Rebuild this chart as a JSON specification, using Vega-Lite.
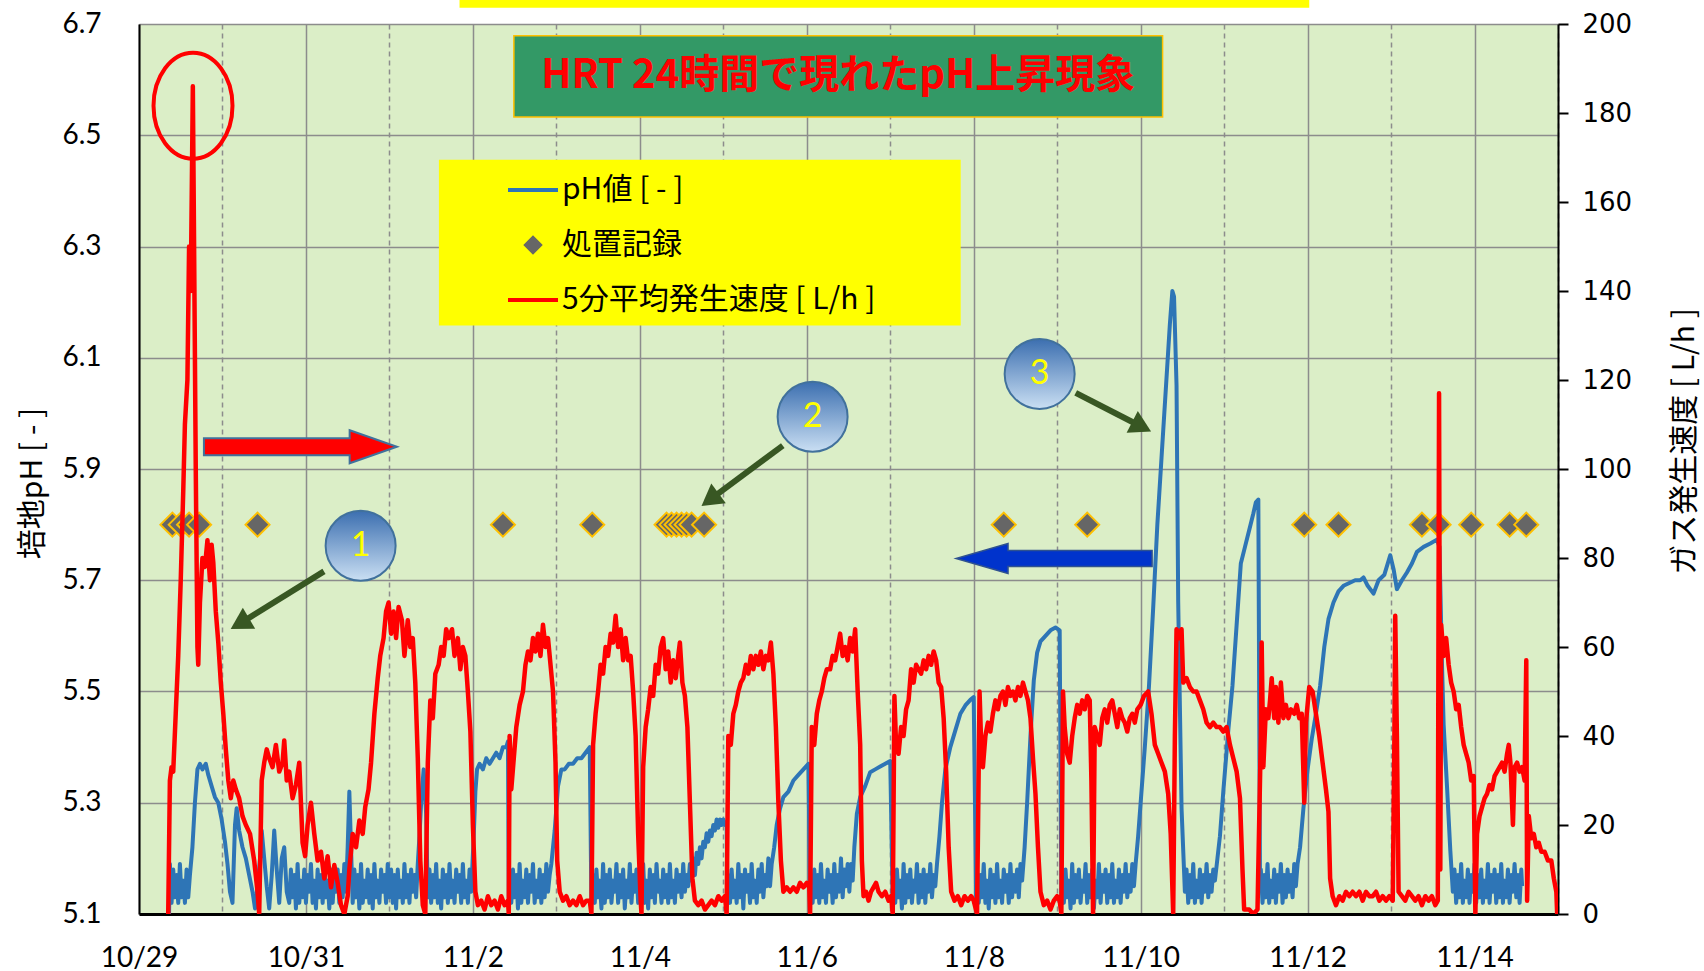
{
"$schema": "https://vega.github.io/schema/vega-lite/v6.json",
"width": 1419, "height": 890,
"autosize": {"type": "none"},
"padding": {"left": 139, "top": 24, "right": 146, "bottom": 57},
"background": "#FFFFFF",
"config": {"view": {"fill": "#DBEEC7", "stroke": null}, "font": "Lato", "axis": {"labelColor": "#000000", "titleColor": "#000000", "labelFlush": false, "labelOverlap": false}},
"datasets": {
"ph": [{"t":0.36,"v":5.10},{"t":0.37,"v":5.19},{"t":0.39,"v":5.12},{"t":0.41,"v":5.18},{"t":0.43,"v":5.13},{"t":0.45,"v":5.17},{"t":0.47,"v":5.12},{"t":0.49,"v":5.19},{"t":0.51,"v":5.13},{"t":0.53,"v":5.16},{"t":0.55,"v":5.12},{"t":0.57,"v":5.18},{"t":0.59,"v":5.13},{"t":0.61,"v":5.17},{"t":0.64,"v":5.22},{"t":0.67,"v":5.30},{"t":0.70,"v":5.36},{"t":0.73,"v":5.37},{"t":0.76,"v":5.36},{"t":0.80,"v":5.37},{"t":0.83,"v":5.35},{"t":0.87,"v":5.33},{"t":0.91,"v":5.31},{"t":0.95,"v":5.30},{"t":0.99,"v":5.27},{"t":1.03,"v":5.23},{"t":1.06,"v":5.19},{"t":1.09,"v":5.14},{"t":1.12,"v":5.12},{"t":1.15,"v":5.26},{"t":1.17,"v":5.29},{"t":1.20,"v":5.25},{"t":1.24,"v":5.22},{"t":1.28,"v":5.20},{"t":1.32,"v":5.17},{"t":1.36,"v":5.14},{"t":1.39,"v":5.11},{"t":1.42,"v":5.15},{"t":1.45,"v":5.20},{"t":1.47,"v":5.25},{"t":1.50,"v":5.20},{"t":1.53,"v":5.15},{"t":1.56,"v":5.11},{"t":1.59,"v":5.17},{"t":1.62,"v":5.25},{"t":1.65,"v":5.18},{"t":1.68,"v":5.12},{"t":1.71,"v":5.20},{"t":1.74,"v":5.22},{"t":1.77,"v":5.14},{"t":1.80,"v":5.12},{"t":1.82,"v":5.18},{"t":1.84,"v":5.13},{"t":1.86,"v":5.17},{"t":1.88,"v":5.11},{"t":1.90,"v":5.19},{"t":1.92,"v":5.12},{"t":1.94,"v":5.16},{"t":1.96,"v":5.13},{"t":1.98,"v":5.18},{"t":2.00,"v":5.12},{"t":2.02,"v":5.17},{"t":2.04,"v":5.14},{"t":2.06,"v":5.19},{"t":2.08,"v":5.12},{"t":2.10,"v":5.16},{"t":2.12,"v":5.11},{"t":2.14,"v":5.18},{"t":2.16,"v":5.13},{"t":2.18,"v":5.17},{"t":2.20,"v":5.12},{"t":2.22,"v":5.19},{"t":2.24,"v":5.13},{"t":2.26,"v":5.16},{"t":2.28,"v":5.11},{"t":2.30,"v":5.18},{"t":2.32,"v":5.12},{"t":2.34,"v":5.17},{"t":2.36,"v":5.14},{"t":2.38,"v":5.18},{"t":2.40,"v":5.12},{"t":2.42,"v":5.17},{"t":2.44,"v":5.13},{"t":2.46,"v":5.19},{"t":2.48,"v":5.14},{"t":2.50,"v":5.22},{"t":2.52,"v":5.32},{"t":2.54,"v":5.22},{"t":2.56,"v":5.12},{"t":2.58,"v":5.18},{"t":2.60,"v":5.13},{"t":2.62,"v":5.17},{"t":2.64,"v":5.11},{"t":2.66,"v":5.19},{"t":2.68,"v":5.12},{"t":2.70,"v":5.16},{"t":2.72,"v":5.13},{"t":2.74,"v":5.18},{"t":2.76,"v":5.12},{"t":2.78,"v":5.17},{"t":2.80,"v":5.11},{"t":2.82,"v":5.19},{"t":2.84,"v":5.13},{"t":2.86,"v":5.16},{"t":2.88,"v":5.12},{"t":2.90,"v":5.18},{"t":2.92,"v":5.14},{"t":2.94,"v":5.17},{"t":2.96,"v":5.12},{"t":2.98,"v":5.19},{"t":3.00,"v":5.13},{"t":3.02,"v":5.18},{"t":3.04,"v":5.12},{"t":3.06,"v":5.17},{"t":3.08,"v":5.11},{"t":3.10,"v":5.18},{"t":3.12,"v":5.13},{"t":3.14,"v":5.16},{"t":3.16,"v":5.12},{"t":3.18,"v":5.19},{"t":3.20,"v":5.13},{"t":3.22,"v":5.17},{"t":3.24,"v":5.12},{"t":3.26,"v":5.18},{"t":3.28,"v":5.14},{"t":3.30,"v":5.17},{"t":3.32,"v":5.13},{"t":3.34,"v":5.19},{"t":3.36,"v":5.24},{"t":3.38,"v":5.30},{"t":3.41,"v":5.36},{"t":3.44,"v":5.28},{"t":3.46,"v":5.13},{"t":3.48,"v":5.18},{"t":3.50,"v":5.12},{"t":3.52,"v":5.17},{"t":3.54,"v":5.13},{"t":3.56,"v":5.19},{"t":3.58,"v":5.12},{"t":3.60,"v":5.16},{"t":3.62,"v":5.11},{"t":3.64,"v":5.18},{"t":3.66,"v":5.13},{"t":3.68,"v":5.17},{"t":3.70,"v":5.12},{"t":3.72,"v":5.19},{"t":3.74,"v":5.13},{"t":3.76,"v":5.16},{"t":3.78,"v":5.12},{"t":3.80,"v":5.18},{"t":3.82,"v":5.14},{"t":3.84,"v":5.17},{"t":3.86,"v":5.12},{"t":3.88,"v":5.19},{"t":3.90,"v":5.13},{"t":3.92,"v":5.16},{"t":3.94,"v":5.12},{"t":3.96,"v":5.18},{"t":3.98,"v":5.14},{"t":4.01,"v":5.24},{"t":4.03,"v":5.32},{"t":4.05,"v":5.36},{"t":4.08,"v":5.37},{"t":4.12,"v":5.36},{"t":4.16,"v":5.38},{"t":4.20,"v":5.37},{"t":4.24,"v":5.38},{"t":4.28,"v":5.39},{"t":4.32,"v":5.38},{"t":4.36,"v":5.40},{"t":4.40,"v":5.40},{"t":4.42,"v":5.41},{"t":4.43,"v":5.12},{"t":4.44,"v":5.17},{"t":4.46,"v":5.12},{"t":4.48,"v":5.18},{"t":4.50,"v":5.13},{"t":4.52,"v":5.17},{"t":4.54,"v":5.11},{"t":4.56,"v":5.19},{"t":4.58,"v":5.12},{"t":4.60,"v":5.16},{"t":4.62,"v":5.13},{"t":4.64,"v":5.18},{"t":4.66,"v":5.12},{"t":4.68,"v":5.17},{"t":4.70,"v":5.14},{"t":4.72,"v":5.19},{"t":4.74,"v":5.12},{"t":4.76,"v":5.16},{"t":4.78,"v":5.13},{"t":4.80,"v":5.18},{"t":4.82,"v":5.12},{"t":4.84,"v":5.17},{"t":4.86,"v":5.13},{"t":4.88,"v":5.19},{"t":4.90,"v":5.14},{"t":4.92,"v":5.17},{"t":4.94,"v":5.19},{"t":4.98,"v":5.25},{"t":5.02,"v":5.33},{"t":5.06,"v":5.36},{"t":5.10,"v":5.36},{"t":5.15,"v":5.37},{"t":5.20,"v":5.37},{"t":5.25,"v":5.38},{"t":5.30,"v":5.38},{"t":5.35,"v":5.39},{"t":5.40,"v":5.40},{"t":5.42,"v":5.12},{"t":5.44,"v":5.17},{"t":5.46,"v":5.12},{"t":5.48,"v":5.18},{"t":5.50,"v":5.13},{"t":5.52,"v":5.16},{"t":5.54,"v":5.11},{"t":5.56,"v":5.19},{"t":5.58,"v":5.12},{"t":5.60,"v":5.17},{"t":5.62,"v":5.13},{"t":5.64,"v":5.18},{"t":5.66,"v":5.12},{"t":5.68,"v":5.16},{"t":5.70,"v":5.14},{"t":5.72,"v":5.19},{"t":5.74,"v":5.12},{"t":5.76,"v":5.17},{"t":5.78,"v":5.13},{"t":5.80,"v":5.18},{"t":5.82,"v":5.11},{"t":5.84,"v":5.16},{"t":5.86,"v":5.13},{"t":5.88,"v":5.19},{"t":5.90,"v":5.12},{"t":5.92,"v":5.17},{"t":5.94,"v":5.14},{"t":5.96,"v":5.18},{"t":5.98,"v":5.12},{"t":6.00,"v":5.17},{"t":6.02,"v":5.13},{"t":6.04,"v":5.19},{"t":6.06,"v":5.12},{"t":6.08,"v":5.16},{"t":6.10,"v":5.11},{"t":6.12,"v":5.18},{"t":6.14,"v":5.13},{"t":6.16,"v":5.17},{"t":6.18,"v":5.12},{"t":6.20,"v":5.19},{"t":6.22,"v":5.14},{"t":6.24,"v":5.16},{"t":6.26,"v":5.12},{"t":6.28,"v":5.18},{"t":6.30,"v":5.13},{"t":6.32,"v":5.17},{"t":6.34,"v":5.12},{"t":6.36,"v":5.19},{"t":6.38,"v":5.13},{"t":6.40,"v":5.16},{"t":6.42,"v":5.12},{"t":6.44,"v":5.18},{"t":6.46,"v":5.14},{"t":6.48,"v":5.17},{"t":6.50,"v":5.13},{"t":6.52,"v":5.19},{"t":6.54,"v":5.14},{"t":6.56,"v":5.17},{"t":6.58,"v":5.15},{"t":6.60,"v":5.19},{"t":6.62,"v":5.16},{"t":6.64,"v":5.20},{"t":6.66,"v":5.17},{"t":6.68,"v":5.21},{"t":6.70,"v":5.19},{"t":6.72,"v":5.22},{"t":6.74,"v":5.20},{"t":6.76,"v":5.23},{"t":6.78,"v":5.22},{"t":6.80,"v":5.245},{"t":6.82,"v":5.23},{"t":6.84,"v":5.25},{"t":6.86,"v":5.24},{"t":6.88,"v":5.26},{"t":6.90,"v":5.25},{"t":6.92,"v":5.27},{"t":6.94,"v":5.255},{"t":6.96,"v":5.27},{"t":6.98,"v":5.26},{"t":7.00,"v":5.27},{"t":7.02,"v":5.26},{"t":7.04,"v":5.265},{"t":7.05,"v":5.12},{"t":7.06,"v":5.17},{"t":7.08,"v":5.12},{"t":7.10,"v":5.18},{"t":7.12,"v":5.13},{"t":7.14,"v":5.16},{"t":7.16,"v":5.12},{"t":7.18,"v":5.19},{"t":7.20,"v":5.13},{"t":7.22,"v":5.17},{"t":7.24,"v":5.11},{"t":7.26,"v":5.18},{"t":7.28,"v":5.14},{"t":7.30,"v":5.17},{"t":7.32,"v":5.12},{"t":7.34,"v":5.19},{"t":7.36,"v":5.13},{"t":7.38,"v":5.16},{"t":7.40,"v":5.12},{"t":7.42,"v":5.18},{"t":7.44,"v":5.14},{"t":7.46,"v":5.19},{"t":7.48,"v":5.13},{"t":7.50,"v":5.17},{"t":7.52,"v":5.15},{"t":7.54,"v":5.20},{"t":7.56,"v":5.15},{"t":7.58,"v":5.19},{"t":7.61,"v":5.22},{"t":7.64,"v":5.26},{"t":7.68,"v":5.29},{"t":7.72,"v":5.31},{"t":7.78,"v":5.32},{"t":7.84,"v":5.34},{"t":7.90,"v":5.35},{"t":7.96,"v":5.36},{"t":8.02,"v":5.37},{"t":8.04,"v":5.12},{"t":8.05,"v":5.17},{"t":8.07,"v":5.12},{"t":8.09,"v":5.18},{"t":8.11,"v":5.13},{"t":8.13,"v":5.17},{"t":8.15,"v":5.12},{"t":8.17,"v":5.19},{"t":8.19,"v":5.13},{"t":8.21,"v":5.16},{"t":8.23,"v":5.12},{"t":8.25,"v":5.18},{"t":8.27,"v":5.14},{"t":8.29,"v":5.17},{"t":8.31,"v":5.12},{"t":8.33,"v":5.19},{"t":8.35,"v":5.13},{"t":8.37,"v":5.17},{"t":8.39,"v":5.14},{"t":8.41,"v":5.20},{"t":8.43,"v":5.13},{"t":8.45,"v":5.18},{"t":8.47,"v":5.15},{"t":8.49,"v":5.19},{"t":8.51,"v":5.14},{"t":8.53,"v":5.19},{"t":8.55,"v":5.16},{"t":8.57,"v":5.22},{"t":8.60,"v":5.28},{"t":8.64,"v":5.31},{"t":8.70,"v":5.33},{"t":8.76,"v":5.355},{"t":8.82,"v":5.36},{"t":8.88,"v":5.365},{"t":8.94,"v":5.37},{"t":9.00,"v":5.375},{"t":9.03,"v":5.12},{"t":9.04,"v":5.17},{"t":9.06,"v":5.12},{"t":9.08,"v":5.18},{"t":9.10,"v":5.13},{"t":9.12,"v":5.16},{"t":9.14,"v":5.11},{"t":9.16,"v":5.19},{"t":9.18,"v":5.12},{"t":9.20,"v":5.17},{"t":9.22,"v":5.13},{"t":9.24,"v":5.18},{"t":9.26,"v":5.12},{"t":9.28,"v":5.16},{"t":9.30,"v":5.14},{"t":9.32,"v":5.19},{"t":9.34,"v":5.12},{"t":9.36,"v":5.17},{"t":9.38,"v":5.13},{"t":9.40,"v":5.18},{"t":9.42,"v":5.12},{"t":9.44,"v":5.17},{"t":9.46,"v":5.14},{"t":9.48,"v":5.19},{"t":9.50,"v":5.13},{"t":9.52,"v":5.17},{"t":9.54,"v":5.15},{"t":9.56,"v":5.19},{"t":9.59,"v":5.24},{"t":9.62,"v":5.30},{"t":9.66,"v":5.36},{"t":9.72,"v":5.40},{"t":9.78,"v":5.43},{"t":9.84,"v":5.46},{"t":9.90,"v":5.475},{"t":9.96,"v":5.485},{"t":10.00,"v":5.49},{"t":10.03,"v":5.12},{"t":10.04,"v":5.18},{"t":10.06,"v":5.12},{"t":10.08,"v":5.17},{"t":10.10,"v":5.13},{"t":10.12,"v":5.19},{"t":10.14,"v":5.12},{"t":10.16,"v":5.16},{"t":10.18,"v":5.11},{"t":10.20,"v":5.18},{"t":10.22,"v":5.13},{"t":10.24,"v":5.17},{"t":10.26,"v":5.12},{"t":10.28,"v":5.19},{"t":10.30,"v":5.13},{"t":10.32,"v":5.16},{"t":10.34,"v":5.12},{"t":10.36,"v":5.18},{"t":10.38,"v":5.14},{"t":10.40,"v":5.17},{"t":10.42,"v":5.12},{"t":10.44,"v":5.19},{"t":10.46,"v":5.13},{"t":10.48,"v":5.17},{"t":10.50,"v":5.14},{"t":10.52,"v":5.18},{"t":10.54,"v":5.13},{"t":10.56,"v":5.19},{"t":10.58,"v":5.16},{"t":10.61,"v":5.22},{"t":10.64,"v":5.30},{"t":10.68,"v":5.42},{"t":10.72,"v":5.52},{"t":10.76,"v":5.57},{"t":10.80,"v":5.59},{"t":10.86,"v":5.60},{"t":10.92,"v":5.61},{"t":10.98,"v":5.615},{"t":11.03,"v":5.61},{"t":11.05,"v":5.12},{"t":11.06,"v":5.17},{"t":11.08,"v":5.12},{"t":11.10,"v":5.18},{"t":11.12,"v":5.13},{"t":11.14,"v":5.16},{"t":11.16,"v":5.11},{"t":11.18,"v":5.19},{"t":11.20,"v":5.12},{"t":11.22,"v":5.17},{"t":11.24,"v":5.13},{"t":11.26,"v":5.18},{"t":11.28,"v":5.12},{"t":11.30,"v":5.16},{"t":11.32,"v":5.14},{"t":11.34,"v":5.19},{"t":11.36,"v":5.12},{"t":11.38,"v":5.17},{"t":11.40,"v":5.13},{"t":11.42,"v":5.18},{"t":11.44,"v":5.11},{"t":11.46,"v":5.16},{"t":11.48,"v":5.13},{"t":11.50,"v":5.19},{"t":11.52,"v":5.12},{"t":11.54,"v":5.17},{"t":11.56,"v":5.14},{"t":11.58,"v":5.18},{"t":11.60,"v":5.12},{"t":11.62,"v":5.17},{"t":11.64,"v":5.13},{"t":11.66,"v":5.19},{"t":11.68,"v":5.12},{"t":11.70,"v":5.16},{"t":11.72,"v":5.13},{"t":11.74,"v":5.18},{"t":11.76,"v":5.12},{"t":11.78,"v":5.17},{"t":11.80,"v":5.14},{"t":11.82,"v":5.19},{"t":11.84,"v":5.13},{"t":11.86,"v":5.17},{"t":11.88,"v":5.14},{"t":11.90,"v":5.19},{"t":11.92,"v":5.15},{"t":11.94,"v":5.19},{"t":11.97,"v":5.24},{"t":12.00,"v":5.30},{"t":12.05,"v":5.40},{"t":12.10,"v":5.51},{"t":12.15,"v":5.65},{"t":12.20,"v":5.80},{"t":12.25,"v":5.92},{"t":12.30,"v":6.04},{"t":12.35,"v":6.16},{"t":12.38,"v":6.22},{"t":12.40,"v":6.21},{"t":12.43,"v":6.05},{"t":12.45,"v":5.66},{"t":12.49,"v":5.29},{"t":12.53,"v":5.14},{"t":12.55,"v":5.18},{"t":12.57,"v":5.12},{"t":12.59,"v":5.17},{"t":12.61,"v":5.13},{"t":12.63,"v":5.19},{"t":12.65,"v":5.12},{"t":12.67,"v":5.16},{"t":12.69,"v":5.13},{"t":12.71,"v":5.18},{"t":12.73,"v":5.12},{"t":12.75,"v":5.17},{"t":12.77,"v":5.14},{"t":12.79,"v":5.19},{"t":12.81,"v":5.13},{"t":12.83,"v":5.17},{"t":12.85,"v":5.14},{"t":12.87,"v":5.18},{"t":12.89,"v":5.16},{"t":12.92,"v":5.20},{"t":12.95,"v":5.24},{"t":12.99,"v":5.32},{"t":13.05,"v":5.43},{"t":13.10,"v":5.51},{"t":13.15,"v":5.62},{"t":13.20,"v":5.73},{"t":13.25,"v":5.76},{"t":13.30,"v":5.79},{"t":13.35,"v":5.82},{"t":13.38,"v":5.84},{"t":13.41,"v":5.845},{"t":13.43,"v":5.15},{"t":13.44,"v":5.18},{"t":13.46,"v":5.12},{"t":13.48,"v":5.17},{"t":13.50,"v":5.13},{"t":13.52,"v":5.19},{"t":13.54,"v":5.12},{"t":13.56,"v":5.16},{"t":13.58,"v":5.13},{"t":13.60,"v":5.18},{"t":13.62,"v":5.12},{"t":13.64,"v":5.17},{"t":13.66,"v":5.14},{"t":13.68,"v":5.19},{"t":13.70,"v":5.12},{"t":13.72,"v":5.17},{"t":13.74,"v":5.13},{"t":13.76,"v":5.18},{"t":13.78,"v":5.14},{"t":13.80,"v":5.17},{"t":13.82,"v":5.13},{"t":13.84,"v":5.19},{"t":13.86,"v":5.15},{"t":13.88,"v":5.19},{"t":13.91,"v":5.22},{"t":13.95,"v":5.29},{"t":14.00,"v":5.36},{"t":14.05,"v":5.415},{"t":14.10,"v":5.46},{"t":14.15,"v":5.51},{"t":14.20,"v":5.58},{"t":14.25,"v":5.63},{"t":14.31,"v":5.66},{"t":14.37,"v":5.68},{"t":14.43,"v":5.69},{"t":14.50,"v":5.695},{"t":14.57,"v":5.70},{"t":14.63,"v":5.70},{"t":14.67,"v":5.705},{"t":14.72,"v":5.69},{"t":14.79,"v":5.676},{"t":14.85,"v":5.70},{"t":14.92,"v":5.71},{"t":14.99,"v":5.745},{"t":15.03,"v":5.72},{"t":15.07,"v":5.684},{"t":15.13,"v":5.70},{"t":15.19,"v":5.714},{"t":15.25,"v":5.73},{"t":15.31,"v":5.751},{"t":15.39,"v":5.76},{"t":15.47,"v":5.766},{"t":15.55,"v":5.773},{"t":15.58,"v":5.76},{"t":15.61,"v":5.55},{"t":15.63,"v":5.44},{"t":15.67,"v":5.33},{"t":15.71,"v":5.214},{"t":15.74,"v":5.14},{"t":15.76,"v":5.18},{"t":15.78,"v":5.12},{"t":15.80,"v":5.17},{"t":15.82,"v":5.13},{"t":15.84,"v":5.19},{"t":15.86,"v":5.12},{"t":15.88,"v":5.16},{"t":15.90,"v":5.13},{"t":15.92,"v":5.18},{"t":15.94,"v":5.12},{"t":15.96,"v":5.17},{"t":15.98,"v":5.14},{"t":16.00,"v":5.19},{"t":16.02,"v":5.12},{"t":16.04,"v":5.17},{"t":16.06,"v":5.13},{"t":16.08,"v":5.18},{"t":16.10,"v":5.12},{"t":16.12,"v":5.16},{"t":16.14,"v":5.13},{"t":16.16,"v":5.19},{"t":16.18,"v":5.12},{"t":16.20,"v":5.17},{"t":16.22,"v":5.14},{"t":16.24,"v":5.18},{"t":16.26,"v":5.12},{"t":16.28,"v":5.17},{"t":16.30,"v":5.13},{"t":16.32,"v":5.19},{"t":16.34,"v":5.12},{"t":16.36,"v":5.16},{"t":16.38,"v":5.13},{"t":16.40,"v":5.18},{"t":16.42,"v":5.12},{"t":16.44,"v":5.17},{"t":16.46,"v":5.14},{"t":16.48,"v":5.19},{"t":16.50,"v":5.13},{"t":16.52,"v":5.17},{"t":16.54,"v":5.12},{"t":16.56,"v":5.18},{"t":16.57,"v":5.15}],
"gas": [{"t":0.35,"v":0},{"t":0.37,"v":30},{"t":0.39,"v":33},{"t":0.41,"v":32},{"t":0.44,"v":45},{"t":0.47,"v":58},{"t":0.50,"v":75},{"t":0.53,"v":95},{"t":0.55,"v":110},{"t":0.58,"v":120},{"t":0.60,"v":150},{"t":0.62,"v":140},{"t":0.645,"v":186},{"t":0.66,"v":150},{"t":0.68,"v":100},{"t":0.70,"v":60},{"t":0.71,"v":56},{"t":0.73,"v":70},{"t":0.76,"v":80},{"t":0.79,"v":78},{"t":0.82,"v":84},{"t":0.85,"v":75},{"t":0.87,"v":83},{"t":0.89,"v":79},{"t":0.92,"v":68},{"t":0.95,"v":61},{"t":0.98,"v":52},{"t":1.01,"v":45},{"t":1.04,"v":37},{"t":1.07,"v":30},{"t":1.10,"v":26},{"t":1.13,"v":30},{"t":1.16,"v":28},{"t":1.20,"v":26},{"t":1.24,"v":22},{"t":1.28,"v":20},{"t":1.33,"v":18},{"t":1.38,"v":12},{"t":1.42,"v":5},{"t":1.44,"v":0},{"t":1.47,"v":30},{"t":1.50,"v":34},{"t":1.53,"v":37},{"t":1.56,"v":35},{"t":1.60,"v":33},{"t":1.64,"v":38},{"t":1.68,"v":32},{"t":1.72,"v":34},{"t":1.74,"v":39},{"t":1.77,"v":30},{"t":1.80,"v":32},{"t":1.84,"v":26},{"t":1.88,"v":29},{"t":1.92,"v":34},{"t":1.96,"v":16},{"t":1.99,"v":13},{"t":2.02,"v":20},{"t":2.06,"v":25},{"t":2.10,"v":18},{"t":2.14,"v":12},{"t":2.18,"v":14},{"t":2.22,"v":8},{"t":2.26,"v":13},{"t":2.30,"v":6},{"t":2.34,"v":11},{"t":2.38,"v":7},{"t":2.42,"v":2},{"t":2.46,"v":0},{"t":2.50,"v":4},{"t":2.52,"v":10},{"t":2.56,"v":18},{"t":2.60,"v":15},{"t":2.64,"v":21},{"t":2.68,"v":18},{"t":2.71,"v":24},{"t":2.75,"v":28},{"t":2.78,"v":34},{"t":2.82,"v":45},{"t":2.86,"v":53},{"t":2.89,"v":58},{"t":2.93,"v":62},{"t":2.96,"v":68},{"t":2.99,"v":70},{"t":3.02,"v":63},{"t":3.05,"v":68},{"t":3.08,"v":62},{"t":3.11,"v":69},{"t":3.15,"v":66},{"t":3.18,"v":58},{"t":3.22,"v":66},{"t":3.25,"v":60},{"t":3.28,"v":62},{"t":3.31,"v":52},{"t":3.34,"v":35},{"t":3.37,"v":12},{"t":3.40,"v":2},{"t":3.43,"v":0},{"t":3.46,"v":34},{"t":3.49,"v":48},{"t":3.52,"v":44},{"t":3.55,"v":54},{"t":3.59,"v":56},{"t":3.62,"v":60},{"t":3.65,"v":58},{"t":3.68,"v":64},{"t":3.71,"v":62},{"t":3.75,"v":64},{"t":3.78,"v":58},{"t":3.82,"v":62},{"t":3.85,"v":55},{"t":3.88,"v":60},{"t":3.91,"v":58},{"t":3.94,"v":50},{"t":3.97,"v":41},{"t":4.00,"v":20},{"t":4.03,"v":5},{"t":4.06,"v":2},{"t":4.10,"v":3},{"t":4.14,"v":1},{"t":4.18,"v":4},{"t":4.22,"v":2},{"t":4.26,"v":3},{"t":4.30,"v":1},{"t":4.34,"v":4},{"t":4.38,"v":2},{"t":4.42,"v":3},{"t":4.43,"v":0},{"t":4.44,"v":40},{"t":4.46,"v":28},{"t":4.49,"v":35},{"t":4.52,"v":42},{"t":4.56,"v":47},{"t":4.60,"v":50},{"t":4.63,"v":56},{"t":4.66,"v":59},{"t":4.69,"v":57},{"t":4.72,"v":62},{"t":4.75,"v":59},{"t":4.78,"v":63},{"t":4.81,"v":58},{"t":4.84,"v":65},{"t":4.87,"v":60},{"t":4.90,"v":62},{"t":4.93,"v":56},{"t":4.96,"v":50},{"t":4.99,"v":34},{"t":5.01,"v":12},{"t":5.04,"v":5},{"t":5.08,"v":3},{"t":5.12,"v":4},{"t":5.16,"v":2},{"t":5.20,"v":3},{"t":5.24,"v":2},{"t":5.28,"v":4},{"t":5.32,"v":2},{"t":5.36,"v":3},{"t":5.40,"v":3},{"t":5.42,"v":0},{"t":5.44,"v":38},{"t":5.47,"v":45},{"t":5.50,"v":50},{"t":5.53,"v":56},{"t":5.56,"v":54},{"t":5.59,"v":60},{"t":5.62,"v":58},{"t":5.65,"v":63},{"t":5.68,"v":61},{"t":5.71,"v":67},{"t":5.74,"v":60},{"t":5.77,"v":64},{"t":5.80,"v":57},{"t":5.83,"v":62},{"t":5.86,"v":57},{"t":5.89,"v":58},{"t":5.92,"v":50},{"t":5.95,"v":40},{"t":5.98,"v":18},{"t":6.01,"v":3},{"t":6.02,"v":0},{"t":6.04,"v":33},{"t":6.07,"v":42},{"t":6.10,"v":46},{"t":6.13,"v":51},{"t":6.16,"v":49},{"t":6.19,"v":56},{"t":6.22,"v":54},{"t":6.25,"v":60},{"t":6.28,"v":62},{"t":6.31,"v":55},{"t":6.34,"v":59},{"t":6.37,"v":52},{"t":6.40,"v":57},{"t":6.43,"v":53},{"t":6.46,"v":58},{"t":6.48,"v":61},{"t":6.51,"v":52},{"t":6.54,"v":49},{"t":6.57,"v":42},{"t":6.60,"v":25},{"t":6.63,"v":8},{"t":6.66,"v":3},{"t":6.70,"v":2},{"t":6.74,"v":3},{"t":6.78,"v":1},{"t":6.82,"v":2},{"t":6.86,"v":3},{"t":6.90,"v":2},{"t":6.94,"v":4},{"t":6.98,"v":3},{"t":7.02,"v":4},{"t":7.04,"v":0},{"t":7.06,"v":40},{"t":7.09,"v":38},{"t":7.12,"v":45},{"t":7.15,"v":47},{"t":7.18,"v":50},{"t":7.21,"v":52},{"t":7.24,"v":53},{"t":7.27,"v":56},{"t":7.30,"v":54},{"t":7.33,"v":58},{"t":7.36,"v":55},{"t":7.39,"v":58},{"t":7.42,"v":56},{"t":7.45,"v":59},{"t":7.48,"v":55},{"t":7.51,"v":58},{"t":7.54,"v":57},{"t":7.57,"v":61},{"t":7.60,"v":54},{"t":7.63,"v":42},{"t":7.66,"v":25},{"t":7.69,"v":12},{"t":7.72,"v":5},{"t":7.76,"v":6},{"t":7.80,"v":5},{"t":7.84,"v":6},{"t":7.88,"v":5},{"t":7.92,"v":7},{"t":7.96,"v":6},{"t":8.00,"v":7},{"t":8.03,"v":6},{"t":8.04,"v":0},{"t":8.06,"v":42},{"t":8.09,"v":38},{"t":8.12,"v":45},{"t":8.15,"v":48},{"t":8.18,"v":50},{"t":8.21,"v":53},{"t":8.24,"v":55},{"t":8.28,"v":55},{"t":8.31,"v":58},{"t":8.34,"v":57},{"t":8.37,"v":60},{"t":8.40,"v":63},{"t":8.43,"v":58},{"t":8.46,"v":60},{"t":8.49,"v":57},{"t":8.52,"v":62},{"t":8.55,"v":59},{"t":8.58,"v":64},{"t":8.61,"v":50},{"t":8.64,"v":38},{"t":8.66,"v":12},{"t":8.68,"v":4},{"t":8.71,"v":5},{"t":8.74,"v":3},{"t":8.77,"v":5},{"t":8.80,"v":6},{"t":8.83,"v":7},{"t":8.86,"v":5},{"t":8.90,"v":4},{"t":8.94,"v":5},{"t":8.98,"v":3},{"t":9.01,"v":4},{"t":9.03,"v":0},{"t":9.05,"v":49},{"t":9.07,"v":38},{"t":9.10,"v":36},{"t":9.13,"v":42},{"t":9.16,"v":40},{"t":9.19,"v":46},{"t":9.22,"v":48},{"t":9.25,"v":55},{"t":9.28,"v":52},{"t":9.31,"v":56},{"t":9.34,"v":55},{"t":9.37,"v":54},{"t":9.40,"v":57},{"t":9.43,"v":55},{"t":9.46,"v":58},{"t":9.49,"v":56},{"t":9.52,"v":59},{"t":9.55,"v":57},{"t":9.58,"v":52},{"t":9.61,"v":51},{"t":9.64,"v":44},{"t":9.67,"v":32},{"t":9.70,"v":15},{"t":9.73,"v":5},{"t":9.77,"v":3},{"t":9.81,"v":4},{"t":9.85,"v":2},{"t":9.89,"v":4},{"t":9.93,"v":3},{"t":9.97,"v":4},{"t":10.00,"v":3},{"t":10.04,"v":0},{"t":10.07,"v":50},{"t":10.09,"v":38},{"t":10.11,"v":33},{"t":10.14,"v":40},{"t":10.17,"v":43},{"t":10.20,"v":41},{"t":10.23,"v":45},{"t":10.26,"v":48},{"t":10.29,"v":46},{"t":10.32,"v":49},{"t":10.35,"v":50},{"t":10.38,"v":47},{"t":10.41,"v":51},{"t":10.44,"v":49},{"t":10.47,"v":50},{"t":10.50,"v":48},{"t":10.53,"v":51},{"t":10.56,"v":49},{"t":10.59,"v":52},{"t":10.62,"v":50},{"t":10.65,"v":48},{"t":10.68,"v":44},{"t":10.71,"v":35},{"t":10.74,"v":27},{"t":10.77,"v":15},{"t":10.80,"v":5},{"t":10.84,"v":2},{"t":10.88,"v":3},{"t":10.92,"v":1},{"t":10.96,"v":3},{"t":11.00,"v":4},{"t":11.03,"v":3},{"t":11.05,"v":0},{"t":11.07,"v":50},{"t":11.09,"v":42},{"t":11.12,"v":36},{"t":11.15,"v":34},{"t":11.18,"v":40},{"t":11.21,"v":44},{"t":11.24,"v":47},{"t":11.27,"v":45},{"t":11.30,"v":48},{"t":11.33,"v":46},{"t":11.36,"v":49},{"t":11.39,"v":48},{"t":11.41,"v":30},{"t":11.43,"v":0},{"t":11.45,"v":42},{"t":11.48,"v":40},{"t":11.51,"v":38},{"t":11.54,"v":44},{"t":11.57,"v":46},{"t":11.60,"v":43},{"t":11.63,"v":47},{"t":11.66,"v":48},{"t":11.69,"v":45},{"t":11.72,"v":42},{"t":11.75,"v":46},{"t":11.78,"v":44},{"t":11.81,"v":43},{"t":11.84,"v":41},{"t":11.87,"v":44},{"t":11.90,"v":45},{"t":11.93,"v":43},{"t":11.96,"v":46},{"t":12.00,"v":47},{"t":12.04,"v":49},{"t":12.09,"v":50},{"t":12.13,"v":45},{"t":12.17,"v":38},{"t":12.21,"v":36},{"t":12.25,"v":34},{"t":12.29,"v":32},{"t":12.33,"v":27},{"t":12.36,"v":18},{"t":12.39,"v":0},{"t":12.41,"v":40},{"t":12.43,"v":64},{"t":12.46,"v":62},{"t":12.49,"v":64},{"t":12.51,"v":52},{"t":12.55,"v":53},{"t":12.59,"v":51},{"t":12.63,"v":50},{"t":12.67,"v":50},{"t":12.71,"v":48},{"t":12.75,"v":46},{"t":12.79,"v":43},{"t":12.83,"v":42},{"t":12.87,"v":43},{"t":12.91,"v":42},{"t":12.95,"v":42},{"t":12.99,"v":41},{"t":13.03,"v":42},{"t":13.07,"v":38},{"t":13.11,"v":35},{"t":13.15,"v":32},{"t":13.19,"v":26},{"t":13.22,"v":10},{"t":13.24,"v":1},{"t":13.30,"v":1},{"t":13.35,"v":0},{"t":13.40,"v":1},{"t":13.44,"v":40},{"t":13.45,"v":61},{"t":13.47,"v":33},{"t":13.50,"v":46},{"t":13.53,"v":44},{"t":13.55,"v":48},{"t":13.57,"v":53},{"t":13.60,"v":44},{"t":13.62,"v":51},{"t":13.65,"v":43},{"t":13.68,"v":52},{"t":13.71,"v":44},{"t":13.74,"v":47},{"t":13.77,"v":44},{"t":13.80,"v":46},{"t":13.84,"v":45},{"t":13.87,"v":47},{"t":13.90,"v":44},{"t":13.93,"v":45},{"t":13.96,"v":25},{"t":13.98,"v":43},{"t":14.02,"v":51},{"t":14.06,"v":50},{"t":14.10,"v":45},{"t":14.14,"v":40},{"t":14.18,"v":34},{"t":14.22,"v":28},{"t":14.25,"v":23},{"t":14.27,"v":8},{"t":14.30,"v":4},{"t":14.34,"v":2},{"t":14.38,"v":4},{"t":14.42,"v":3},{"t":14.46,"v":5},{"t":14.50,"v":4},{"t":14.54,"v":5},{"t":14.58,"v":4},{"t":14.62,"v":5},{"t":14.66,"v":3},{"t":14.70,"v":5},{"t":14.74,"v":4},{"t":14.78,"v":4},{"t":14.82,"v":5},{"t":14.86,"v":3},{"t":14.90,"v":4},{"t":14.94,"v":3},{"t":14.98,"v":4},{"t":15.02,"v":3},{"t":15.04,"v":40},{"t":15.05,"v":67},{"t":15.07,"v":40},{"t":15.09,"v":5},{"t":15.13,"v":4},{"t":15.17,"v":3},{"t":15.21,"v":5},{"t":15.25,"v":4},{"t":15.29,"v":3},{"t":15.33,"v":4},{"t":15.37,"v":2},{"t":15.41,"v":4},{"t":15.45,"v":3},{"t":15.49,"v":4},{"t":15.53,"v":2},{"t":15.56,"v":3},{"t":15.575,"v":117},{"t":15.59,"v":10},{"t":15.60,"v":65},{"t":15.63,"v":58},{"t":15.66,"v":62},{"t":15.69,"v":56},{"t":15.72,"v":52},{"t":15.75,"v":50},{"t":15.78,"v":46},{"t":15.81,"v":47},{"t":15.84,"v":42},{"t":15.87,"v":38},{"t":15.90,"v":36},{"t":15.93,"v":34},{"t":15.96,"v":30},{"t":15.99,"v":31},{"t":16.01,"v":0},{"t":16.03,"v":18},{"t":16.06,"v":22},{"t":16.09,"v":24},{"t":16.12,"v":26},{"t":16.15,"v":27},{"t":16.18,"v":29},{"t":16.21,"v":28},{"t":16.24,"v":31},{"t":16.27,"v":32},{"t":16.30,"v":33},{"t":16.33,"v":34},{"t":16.36,"v":32},{"t":16.39,"v":36},{"t":16.41,"v":38},{"t":16.43,"v":34},{"t":16.46,"v":20},{"t":16.48,"v":33},{"t":16.51,"v":34},{"t":16.54,"v":32},{"t":16.57,"v":33},{"t":16.60,"v":30},{"t":16.62,"v":57},{"t":16.63,"v":3},{"t":16.65,"v":22},{"t":16.68,"v":17},{"t":16.71,"v":18},{"t":16.74,"v":15},{"t":16.77,"v":16},{"t":16.80,"v":14},{"t":16.84,"v":14},{"t":16.88,"v":12},{"t":16.92,"v":12},{"t":16.95,"v":8},{"t":16.98,"v":5},{"t":16.99,"v":0}],
"rec": [{"t":0.40,"v":5.8},{"t":0.50,"v":5.8},{"t":0.60,"v":5.8},{"t":0.72,"v":5.8},{"t":1.42,"v":5.8},{"t":4.36,"v":5.8},{"t":5.43,"v":5.8},{"t":6.32,"v":5.8},{"t":6.38,"v":5.8},{"t":6.44,"v":5.8},{"t":6.50,"v":5.8},{"t":6.56,"v":5.8},{"t":6.62,"v":5.8},{"t":6.77,"v":5.8},{"t":10.36,"v":5.8},{"t":11.36,"v":5.8},{"t":13.96,"v":5.8},{"t":14.37,"v":5.8},{"t":15.37,"v":5.8},{"t":15.57,"v":5.8},{"t":15.96,"v":5.8},{"t":16.42,"v":5.8},{"t":16.62,"v":5.8}]
},
"layer": [
{
"layer": [
{"data": {"name": "ph"},
 "mark": {"type": "line", "strokeWidth": 4, "strokeJoin": "round", "clip": true},
 "encoding": {
  "x": {"field":"t","type":"quantitative","scale":{"domain":[0,17],"nice":false,"zero":false},
   "axis": {"title": null, "values": [0,1,2,3,4,5,6,7,8,9,10,11,12,13,14,15,16,17], "grid": true, "gridColor": "#8C8C8C", "gridWidth": 1.5, "gridDash": {"condition": {"test": "datum.value % 2 == 1", "value": [5,4]}, "value": []}, "ticks": false, "domainColor": "#000000", "domainWidth": 3, "labelExpr": "datum.value % 2 == 0 ? ['10/29','10/31','11/2','11/4','11/6','11/8','11/10','11/12','11/14'][datum.value / 2] : ''", "labelFont": "Lato", "labelFontSize": 28, "labelPadding": 30, "labelFlush": false, "labelOverlap": false}},
  "y": {"field":"v","type":"quantitative","scale":{"domain":[5.1,6.7],"nice":false,"zero":false},
   "axis": {"title": "培地pH [ - ]", "titleY": 459, "values": [5.1,5.3,5.5,5.7,5.9,6.1,6.3,6.5,6.7], "format": ".1f", "grid": true, "gridColor": "#8C8C8C", "gridWidth": 1.5, "ticks": false, "domainColor": "#000000", "domainWidth": 2, "labelFont": "Lato", "labelFontSize": 28, "labelPadding": 38, "labelFlush": false, "titleFont": "Noto Sans CJK JP", "titleFontSize": 30, "titleFontWeight": "normal", "titlePadding": 14}},
  "color": {"datum": "pH値 [ - ]", "type": "nominal",
   "scale": {"domain": ["pH値 [ - ]", "処置記録", "5分平均発生速度 [ L/h ]"], "range": ["#2E75B6", "#666666", "#FF0000"]},
   "legend": {"orient": "none", "legendX": 379, "legendY": 151, "title": null, "direction": "vertical", "symbolType": "stroke", "symbolSize": 2500, "symbolStrokeWidth": 4, "labelFont": "Noto Sans CJK JP", "labelFontSize": 30, "labelColor": "#000000", "labelOffset": 14, "labelLimit": 800, "rowPadding": 25, "padding": 0,
    "encode": {"symbols": {"update": {
      "shape": {"signal": "datum.value === '処置記録' ? 'diamond' : 'stroke'"},
      "size": {"signal": "datum.value === '処置記録' ? 300 : 2500"},
      "fill": {"signal": "datum.value === '処置記録' ? '#666666' : 'transparent'"},
      "stroke": {"signal": "datum.value === '処置記録' ? '#FFC000' : (datum.value === 'pH値 [ - ]' ? '#2E75B6' : '#FF0000')"},
      "strokeWidth": {"signal": "datum.value === '処置記録' ? 1.5 : 4"},
      "opacity": {"value": 1}}}}}}
 }},
{"data": {"values": [{"x":3.84,"x2":14.02,"y":6.729,"y2":6.95}]},
 "mark": {"type": "rect", "fill": "#FFFF00", "clip": false},
 "encoding": {"x": {"field":"x","type":"quantitative","scale":{"domain":[0,17],"nice":false,"zero":false}},"x2":{"field":"x2"},"y":{"field":"y","type":"quantitative","scale":{"domain":[5.1,6.7],"nice":false,"zero":false}},"y2":{"field":"y2"}}},
{"data": {"values": [{"x":4.491,"x2":12.263,"y":6.679,"y2":6.533}]},
 "mark": {"type": "rect", "fill": "#339966", "stroke": "#FFC000", "strokeWidth": 1.5},
 "encoding": {"x": {"field":"x","type":"quantitative","scale":{"domain":[0,17],"nice":false,"zero":false}},"x2":{"field":"x2"},"y":{"field":"y","type":"quantitative","scale":{"domain":[5.1,6.7],"nice":false,"zero":false}},"y2":{"field":"y2"}}},
{"data": {"values": [{"x":8.377,"y":6.606,"label":"HRT 24時間で現れたpH上昇現象"}]},
 "mark": {"type": "text", "font": "Noto Sans CJK JP", "fontWeight": "bold", "fontSize": 40, "color": "#FF0000", "align": "center", "baseline": "middle"},
 "encoding": {"x": {"field":"x","type":"quantitative","scale":{"domain":[0,17],"nice":false,"zero":false}},"y":{"field":"y","type":"quantitative","scale":{"domain":[5.1,6.7],"nice":false,"zero":false}},"text":{"field":"label"}}},
{"data": {"values": [{"x":3.593,"x2":9.844,"y":6.456,"y2":6.158}]},
 "mark": {"type": "rect", "fill": "#FFFF00"},
 "encoding": {"x": {"field":"x","type":"quantitative","scale":{"domain":[0,17],"nice":false,"zero":false}},"x2":{"field":"x2"},"y":{"field":"y","type":"quantitative","scale":{"domain":[5.1,6.7],"nice":false,"zero":false}},"y2":{"field":"y2"}}},
{"data": {"name": "rec"},
 "mark": {"type": "point", "shape": "diamond", "filled": true, "size": 576, "stroke": "#FFC000", "strokeWidth": 2, "opacity": 1},
 "encoding": {"x": {"field":"t","type":"quantitative","scale":{"domain":[0,17],"nice":false,"zero":false}},"y":{"field":"v","type":"quantitative","scale":{"domain":[5.1,6.7],"nice":false,"zero":false}},"color":{"datum":"処置記録","type":"nominal"}}},
{"data": {"values": [{"x":0.647,"y":6.553}]},
 "mark": {"type": "point", "shape": "M-0.745,0A0.745,1,0,1,0,0.745,0A0.745,1,0,1,0,-0.745,0Z", "filled": false, "size": 11236, "stroke": "#FF0000", "strokeWidth": 4, "opacity": 1},
 "encoding": {"x": {"field":"x","type":"quantitative","scale":{"domain":[0,17],"nice":false,"zero":false}},"y":{"field":"y","type":"quantitative","scale":{"domain":[5.1,6.7],"nice":false,"zero":false}}}},
{"data": {"values": [{"x":1.934,"y":5.940}]},
 "mark": {"type": "point", "shape": "M-1,-0.088L0.51,-0.088L0.51,-0.171L1,0L0.51,0.171L0.51,0.088L-1,0.088Z", "filled": true, "size": 37249, "fill": "#FF0000", "stroke": "#41719C", "strokeWidth": 2, "opacity": 1},
 "encoding": {"x": {"field":"x","type":"quantitative","scale":{"domain":[0,17],"nice":false,"zero":false}},"y":{"field":"y","type":"quantitative","scale":{"domain":[5.1,6.7],"nice":false,"zero":false}}}},
{"data": {"values": [{"x":10.963,"y":5.739}]},
 "mark": {"type": "point", "shape": "M1,-0.082L-0.47,-0.082L-0.47,-0.153L-1,0L-0.47,0.153L-0.47,0.082L1,0.082Z", "filled": true, "size": 38416, "fill": "#0033CC", "stroke": "#2F528F", "strokeWidth": 1.5, "opacity": 1},
 "encoding": {"x": {"field":"x","type":"quantitative","scale":{"domain":[0,17],"nice":false,"zero":false}},"y":{"field":"y","type":"quantitative","scale":{"domain":[5.1,6.7],"nice":false,"zero":false}}}},
{"data": {"values": [{"x":2.216,"y":5.716,"x2":1.208,"y2":5.622},{"x":7.713,"y":5.942,"x2":6.841,"y2":5.845},{"x":11.222,"y":6.037,"x2":12.012,"y2":5.976}]},
 "mark": {"type": "rule", "color": "#385723", "strokeWidth": 6},
 "encoding": {"x": {"field":"x","type":"quantitative","scale":{"domain":[0,17],"nice":false,"zero":false}},"x2":{"field":"x2"},"y":{"field":"y","type":"quantitative","scale":{"domain":[5.1,6.7],"nice":false,"zero":false}},"y2":{"field":"y2"}}},
{"data": {"values": [{"x":1.208,"y":5.622}]},
 "mark": {"type": "point", "shape": "triangle-up", "filled": true, "size": 600, "color": "#385723", "opacity": 1, "angle": -120.3},
 "encoding": {"x": {"field":"x","type":"quantitative","scale":{"domain":[0,17],"nice":false,"zero":false}},"y":{"field":"y","type":"quantitative","scale":{"domain":[5.1,6.7],"nice":false,"zero":false}}}},
{"data": {"values": [{"x":6.841,"y":5.845}]},
 "mark": {"type": "point", "shape": "triangle-up", "filled": true, "size": 600, "color": "#385723", "opacity": 1, "angle": -126.4},
 "encoding": {"x": {"field":"x","type":"quantitative","scale":{"domain":[0,17],"nice":false,"zero":false}},"y":{"field":"y","type":"quantitative","scale":{"domain":[5.1,6.7],"nice":false,"zero":false}}}},
{"data": {"values": [{"x":12.012,"y":5.976}]},
 "mark": {"type": "point", "shape": "triangle-up", "filled": true, "size": 600, "color": "#385723", "opacity": 1, "angle": 117.2},
 "encoding": {"x": {"field":"x","type":"quantitative","scale":{"domain":[0,17],"nice":false,"zero":false}},"y":{"field":"y","type":"quantitative","scale":{"domain":[5.1,6.7],"nice":false,"zero":false}}}},
{"data": {"values": [{"x":2.655,"y":5.762,"n":"1"},{"x":8.07,"y":5.994,"n":"2"},{"x":10.79,"y":6.071,"n":"3"}]},
 "layer": [
  {"mark": {"type": "point", "shape": "circle", "filled": true, "size": 4900, "opacity": 1, "stroke": "#41719C", "strokeWidth": 2,
    "fill": {"gradient": "linear", "x1": 0, "y1": 0, "x2": 0, "y2": 1, "stops": [{"offset": 0, "color": "#3C6FB0"}, {"offset": 1, "color": "#CADFF3"}]}},
   "encoding": {"x": {"field":"x","type":"quantitative","scale":{"domain":[0,17],"nice":false,"zero":false}},"y":{"field":"y","type":"quantitative","scale":{"domain":[5.1,6.7],"nice":false,"zero":false}}}},
  {"mark": {"type": "text", "font": "Lato", "fontSize": 34, "color": "#FFFF00", "align": "center", "baseline": "middle"},
   "encoding": {"x": {"field":"x","type":"quantitative","scale":{"domain":[0,17],"nice":false,"zero":false}},"y":{"field":"y","type":"quantitative","scale":{"domain":[5.1,6.7],"nice":false,"zero":false}},"text":{"field":"n"}}}
 ]}
]
},
{"data": {"name": "gas"},
 "mark": {"type": "line", "strokeWidth": 4.5, "strokeJoin": "round", "clip": true},
 "encoding": {
  "x": {"field":"t","type":"quantitative","scale":{"domain":[0,17],"nice":false,"zero":false}},
  "y": {"field":"v","type":"quantitative","scale":{"domain":[0,200],"nice":false,"zero":true},
   "axis": {"orient": "right", "title": "ガス発生速度 [ L/h ]", "titleAngle": 270, "titleY": 417, "values": [0,20,40,60,80,100,120,140,160,180,200], "grid": false, "ticks": true, "tickSize": 10, "tickColor": "#000000", "tickWidth": 2, "domainColor": "#000000", "domainWidth": 2, "labelFont": "DejaVu Sans", "labelFontSize": 26, "labelPadding": 14, "labelFlush": false, "titleFont": "Noto Sans CJK JP", "titleFontSize": 30, "titleFontWeight": "normal", "titlePadding": 68}},
  "color": {"datum": "5分平均発生速度 [ L/h ]", "type": "nominal"}
 }}
],
"resolve": {"scale": {"y": "independent"}}
}
